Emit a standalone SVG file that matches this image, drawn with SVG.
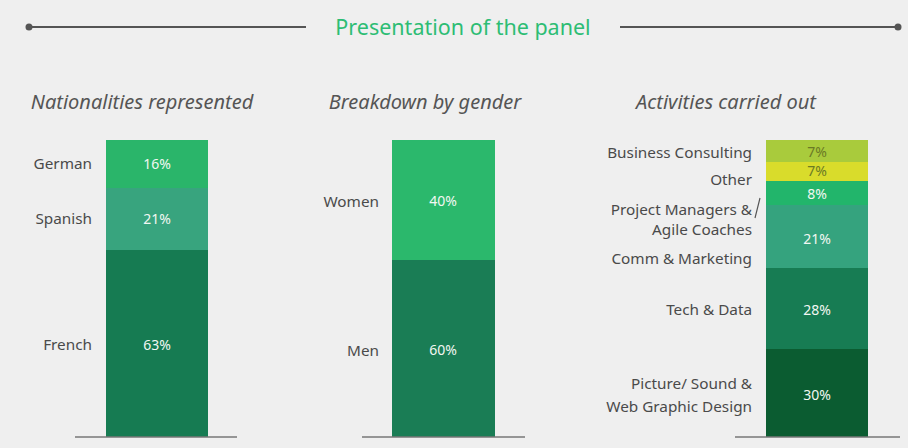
<svg xmlns="http://www.w3.org/2000/svg" width="908" height="448" viewBox="0 0 908 448">
<style>
.ttl{font-family:"Noto Sans","Open Sans",sans-serif;font-style:italic;font-size:20px;fill:#555}
.lbl{font-family:"Noto Sans","Open Sans",sans-serif;font-size:15.3px;fill:#4a4a4a}
.pct{font-family:"Noto Sans","Open Sans",sans-serif;font-size:14px;fill:#f2f7f2;text-anchor:middle}
.pct2{font-family:"Noto Sans","Open Sans",sans-serif;font-size:14px;fill:#6b7a25;text-anchor:middle}
.base{stroke:#777;stroke-width:1.5}
</style>
<rect width="908" height="448" fill="#efefef"/>
<g id="header">
<line x1="29" y1="27" x2="306" y2="27" stroke="#555" stroke-width="2"/>
<line x1="620" y1="27" x2="898" y2="27" stroke="#555" stroke-width="2"/>
<circle cx="29" cy="27" r="3.5" fill="#555"/>
<circle cx="898" cy="27" r="3.5" fill="#555"/>
<text x="463" y="35" text-anchor="middle" font-family="'Noto Sans','Open Sans',sans-serif" font-size="21.5" fill="#2dbd74">Presentation of the panel</text>
</g>
<g id="chart-nationalities">
<text class="ttl" x="142" y="109" text-anchor="middle">Nationalities represented</text>
<rect x="106" y="140" width="102" height="48" fill="#2ab56a"/>
<rect x="106" y="188" width="102" height="62" fill="#38a47e"/>
<rect x="106" y="250" width="102" height="187" fill="#167b52"/>
<text class="pct" x="157" y="169">16%</text>
<text class="pct" x="157" y="224">21%</text>
<text class="pct" x="157" y="350">63%</text>
<text class="lbl" x="92" y="169" text-anchor="end">German</text>
<text class="lbl" x="92" y="224" text-anchor="end">Spanish</text>
<text class="lbl" x="92" y="350" text-anchor="end">French</text>
<line class="base" x1="75" y1="437" x2="237" y2="437"/>
</g>
<g id="chart-gender">
<text class="ttl" x="425" y="109" text-anchor="middle">Breakdown by gender</text>
<rect x="392" y="140" width="103" height="120" fill="#2bb86c"/>
<rect x="392" y="260" width="103" height="177" fill="#1a7d55"/>
<text class="pct" x="443" y="206">40%</text>
<text class="pct" x="443" y="355">60%</text>
<text class="lbl" x="379" y="207" text-anchor="end">Women</text>
<text class="lbl" x="379" y="356" text-anchor="end">Men</text>
<line class="base" x1="362" y1="437" x2="525" y2="437"/>
</g>
<g id="chart-activities">
<text class="ttl" x="726" y="109" text-anchor="middle">Activities carried out</text>
<rect x="766" y="140" width="102" height="22" fill="#a9cb3c"/>
<rect x="766" y="162" width="102" height="19" fill="#d9dc2b"/>
<rect x="766" y="181" width="102" height="24" fill="#22b56b"/>
<rect x="766" y="205" width="102" height="63" fill="#35a37e"/>
<rect x="766" y="268" width="102" height="81" fill="#177c53"/>
<rect x="766" y="349" width="102" height="88" fill="#0b5c31"/>
<text class="pct2" x="817" y="157">7%</text>
<text class="pct2" x="817" y="176">7%</text>
<text class="pct" x="817" y="199">8%</text>
<text class="pct" x="817" y="244">21%</text>
<text class="pct" x="817" y="315">28%</text>
<text class="pct" x="817" y="400">30%</text>
<text class="lbl" x="752" y="158" text-anchor="end">Business Consulting</text>
<text class="lbl" x="752" y="185" text-anchor="end">Other</text>
<text class="lbl" x="752" y="215" text-anchor="end">Project Managers &amp;</text>
<text class="lbl" x="752" y="235" text-anchor="end">Agile Coaches</text>
<text class="lbl" x="752" y="264" text-anchor="end">Comm &amp; Marketing</text>
<text class="lbl" x="752" y="315" text-anchor="end">Tech &amp; Data</text>
<text class="lbl" x="752" y="389" text-anchor="end">Picture/ Sound &amp;</text>
<text class="lbl" x="752" y="412" text-anchor="end">Web Graphic Design</text>
<line x1="755" y1="218" x2="760" y2="198" stroke="#555" stroke-width="1.2"/>
<line class="base" x1="735" y1="437" x2="900" y2="437"/>
</g>
</svg>
